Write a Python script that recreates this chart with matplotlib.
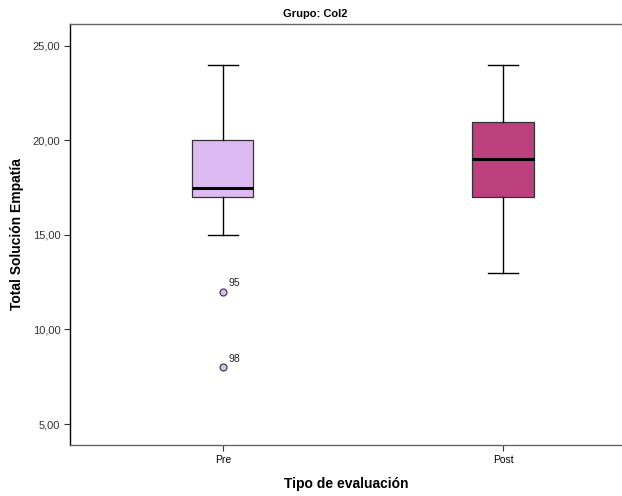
import numpy as np
import matplotlib.pyplot as plt

plt.rcParams['font.family'] = ['Liberation Sans', 'DejaVu Sans']

# data (box summary per group)
categories = ["Pre", "Post"]
whisker_low = [15, 13]
q1 = [17, 17]
median = [17.5, 19]
q3 = [20, 21]
whisker_high = [24, 24]
outlier_vals = [[12, 8], []]
outlier_ids = [["95", "98"], []]
box_colors = ["#DEBAF3", "#BC3F7E"]

stats = []
for i, name in enumerate(categories):
    stats.append({
        "label": name,
        "whislo": whisker_low[i],
        "q1": q1[i],
        "med": median[i],
        "q3": q3[i],
        "whishi": whisker_high[i],
        "fliers": outlier_vals[i],
    })

fig = plt.figure(figsize=(6.22, 4.96), dpi=100)
ax = fig.add_axes([70 / 622, 51 / 496, 552 / 622, 421 / 496])

positions = np.arange(len(categories))
bp = ax.bxp(stats, positions=positions, widths=0.218, patch_artist=True,
            showfliers=True,
            boxprops=dict(edgecolor="#333333", linewidth=0.9),
            medianprops=dict(color="black", linewidth=2.2),
            whiskerprops=dict(color="black", linewidth=1.0),
            capprops=dict(color="black", linewidth=1.0),
            capwidths=0.11,
            flierprops=dict(marker="o", markersize=5, markerfacecolor=box_colors[0],
                            markeredgecolor="#444444", markeredgewidth=0.9))
for patch, c in zip(bp["boxes"], box_colors):
    patch.set_facecolor(c)

for i in range(len(categories)):
    for v, lab in zip(outlier_vals[i], outlier_ids[i]):
        ax.annotate(lab, (positions[i], v), xytext=(4, 4), textcoords="offset points",
                    fontsize=7.5, color="#222222")

ax.set_xlim(-0.546, 1.425)
ax.set_ylim(3.89, 26.16)
ax.set_yticks([5, 10, 15, 20, 25])
ax.set_yticklabels(["5,00", "10,00", "15,00", "20,00", "25,00"], fontsize=8, color="#333333")
ax.set_xticks(positions)
ax.set_xticklabels(categories, fontsize=7.5)
ax.tick_params(axis="both", length=4, width=0.8, color="#333333", pad=3)

ax.spines["right"].set_visible(False)
ax.spines["left"].set_color("black")
ax.spines["top"].set_color("#666666")
ax.spines["bottom"].set_color("#666666")
for s in ax.spines.values():
    s.set_linewidth(1.0)

ax.set_ylabel("Total Solución Empatía", fontsize=10, fontweight="bold", labelpad=6)
ax.set_xlabel("Tipo de evaluación", fontsize=10, fontweight="bold", labelpad=9)
fig.text(315 / 622, 1 - 14 / 496, "Grupo: Col2", ha="center", va="center",
         fontsize=8, fontweight="bold")

fig.savefig("out.png", dpi=100)
